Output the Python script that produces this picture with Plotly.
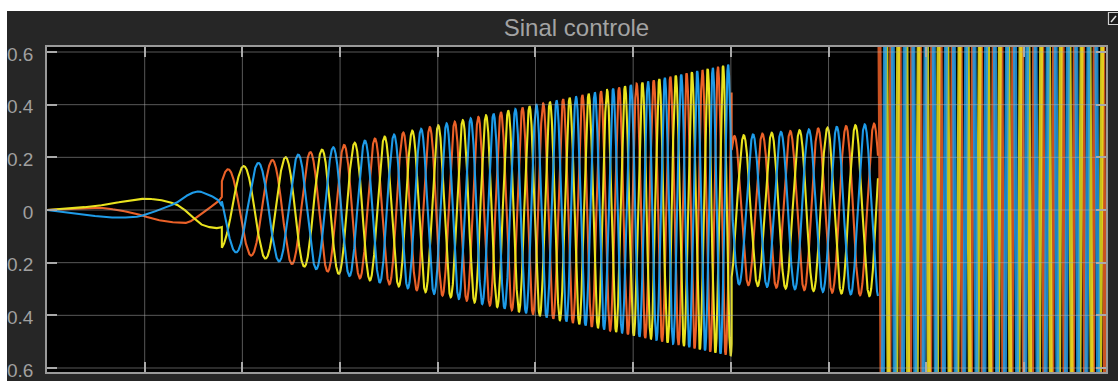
import numpy as np
import plotly.graph_objects as go

# Start-up transient: rotating phasor (time s, amplitude, electrical angle deg)
startup_t = [0.0, 0.024, 0.054, 0.095, 0.131, 0.156, 0.175, 0.179]
startup_amp = [0.0, 0.010, 0.026, 0.042, 0.047, 0.073, 0.069, 0.068]
startup_angle = [150, 155, 160, 205, 270, 345, 385, 407]

# Controlled stages: time span, amplitude and frequency (Hz) at both ends
stage_t0 = [0.179, 0.7008, 0.8506]
stage_t1 = [0.7008, 0.8506, 1.084]
stage_amp0 = [0.15, 0.28, 2.5]
stage_amp1 = [0.555, 0.33, 2.5]
stage_f0 = [19.5, 35.0, 48.0]
stage_f1 = [64.9, 35.0, 48.0]

# Three phases of the control signal
phase_names = ["u_a", "u_b", "u_c"]
phase_shift = [0, -120, 120]
phase_colors = ["#EB6128", "#E9E31E", "#1E9BE8"]

# Axes
x_grid = [0.1, 0.2, 0.3, 0.4, 0.5, 0.6, 0.7, 0.8, 0.9, 1.0]
y_ticks = [-0.6, -0.4, -0.2, 0, 0.2, 0.4, 0.6]
y_tick_text = ["0.6", "0.4", "0.2", "0", "0.2", "0.4", "0.6"]
x_range = [0.0, 1.084]
y_range = [-0.6152, 0.619]

# ---- build the waveform -------------------------------------------------
t = np.linspace(x_range[0], x_range[1], 30001)
amp = np.zeros_like(t)
ang = np.zeros_like(t)

m = t < stage_t0[0]
amp[m] = np.interp(t[m], startup_t, startup_amp)
ang[m] = np.interp(t[m], startup_t, startup_angle)

ang_start = startup_angle[-1]
for t0, t1, a0, a1, f0, f1 in zip(stage_t0, stage_t1, stage_amp0, stage_amp1, stage_f0, stage_f1):
    m = (t >= t0) & (t <= t1)
    tau = t[m] - t0
    span = t1 - t0
    amp[m] = a0 + (a1 - a0) * tau / span
    ang[m] = ang_start + 360.0 * (f0 * tau + 0.5 * (f1 - f0) / span * tau ** 2)
    ang_start = ang_start + 360.0 * (f0 * span + 0.5 * (f1 - f0) * span)

# the last (saturated) stage is drawn with a heavier stroke
last = t >= stage_t0[-1]
first = t <= stage_t0[-1]

fig = go.Figure()
for name, shift, color in zip(phase_names, phase_shift, phase_colors):
    y = amp * np.sin(np.radians(ang + shift))
    fig.add_trace(go.Scatter(x=t[first], y=y[first], mode="lines", name=name,
                             line=dict(color=color, width=2.1),
                             hoverinfo="skip"))
for name, shift, color in zip(phase_names, phase_shift, phase_colors):
    y = amp * np.sin(np.radians(ang + shift))
    fig.add_trace(go.Scatter(x=t[last], y=y[last], mode="lines", name=name,
                             line=dict(color=color, width=4.0),
                             opacity=0.85, hoverinfo="skip"))

# ---- layout geometry ----------------------------------------------------
W, H = 1118, 381
ml, mr, mt, mb = 47, 12, 47, 9
pw, ph = W - ml - mr, H - mt - mb


def px_x(p):
    return (p - ml) / pw


def px_y(p):
    return (H - mb - p) / ph


shapes = []
# grid drawn over the traces, semi-transparent like the scope display
for gx in x_grid:
    shapes.append(dict(type="line", xref="x", yref="paper", x0=gx, x1=gx, y0=0, y1=1,
                       line=dict(color="rgba(175,175,175,0.5)", width=1), layer="above"))
for gy in y_ticks:
    shapes.append(dict(type="line", xref="paper", yref="y", x0=0, x1=1, y0=gy, y1=gy,
                       line=dict(color="rgba(175,175,175,0.5)", width=1), layer="above"))
# window frame outside the dark panel
shapes.append(dict(type="rect", xref="paper", yref="paper",
                   x0=px_x(-2), x1=px_x(W + 2), y0=px_y(11), y1=px_y(-2),
                   fillcolor="white", line=dict(width=0), layer="above"))
shapes.append(dict(type="rect", xref="paper", yref="paper",
                   x0=px_x(-2), x1=px_x(7), y0=px_y(H + 2), y1=px_y(-2),
                   fillcolor="white", line=dict(width=0), layer="above"))
# undock button in the corner
shapes.append(dict(type="rect", xref="paper", yref="paper",
                   x0=px_x(1108.5), x1=px_x(1119), y0=px_y(24.5), y1=px_y(12.5),
                   fillcolor="#1a1a1a", line=dict(color="#d0d0d0", width=1.2), layer="above"))
shapes.append(dict(type="line", xref="paper", yref="paper",
                   x0=px_x(1111), x1=px_x(1116), y0=px_y(22), y1=px_y(16),
                   line=dict(color="#e0e0e0", width=1.5), layer="above"))

axis_common = dict(showline=True, linecolor="#9a9a9a", linewidth=1.5, mirror="ticks",
                   ticks="inside", ticklen=10, tickwidth=1.5, tickcolor="#a8a8a8",
                   showgrid=False, zeroline=False, automargin=False)

fig.update_layout(
    width=W, height=H,
    margin=dict(l=ml, r=mr, t=mt, b=mb, pad=0, autoexpand=False),
    paper_bgcolor="#262626",
    plot_bgcolor="#000000",
    showlegend=False,
    title=dict(text="Sinal controle", x=0.5, xref="paper", xanchor="center",
               y=1 - 27.5 / H, yref="container", yanchor="middle", automargin=False,
               font=dict(family="Liberation Sans, Arial, sans-serif", size=24, color="#a3a3a3")),
    xaxis=dict(range=x_range, tickvals=x_grid, showticklabels=False, **axis_common),
    yaxis=dict(range=y_range, tickvals=y_ticks, ticktext=y_tick_text,
               ticklabelstandoff=8, ticklabelshift=2,
               tickfont=dict(family="Liberation Sans, Arial, sans-serif", size=19, color="#a0a0a0"),
               **axis_common),
    shapes=shapes,
)

fig.write_html("out.html")
